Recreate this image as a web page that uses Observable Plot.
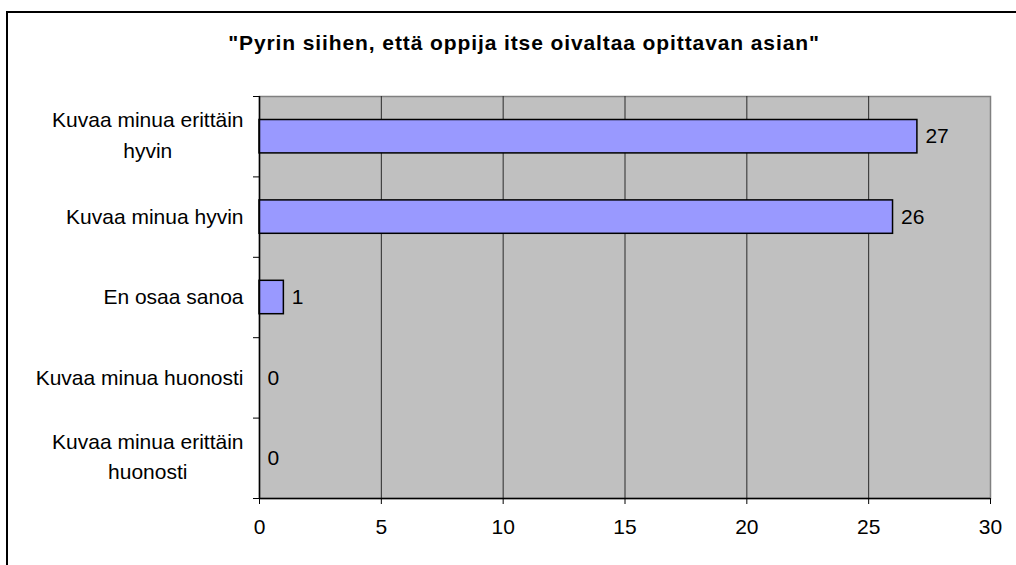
<!DOCTYPE html>
<html>
<head>
<meta charset="utf-8">
<script src="https://cdn.jsdelivr.net/npm/d3@7"></script>
<script src="https://cdn.jsdelivr.net/npm/@observablehq/plot@0.6"></script>
<style>
  html, body { margin: 0; padding: 0; background: #fff; overflow: hidden; }
  #wrap { position: relative; width: 1016px; height: 565px; overflow: hidden; font-family: "Liberation Sans", Arial, sans-serif; }
  #border { position: absolute; left: 6px; top: 11px; width: 1100px; height: 700px; border: 2px solid #000; box-sizing: border-box; }
  #title { position: absolute; left: 16px; width: 1016px; top: 31px; text-align: center; font-weight: bold; font-size: 21px; letter-spacing: 0.9px; color: #000; }
  #chart { position: absolute; left: 0; top: 0; }
</style>
</head>
<body>
<div id="wrap">
  <div id="border"></div>
  <div id="title"></div>
  <div id="chart"></div>
</div>
<script>
const title = "\"Pyrin siihen, että oppija itse oivaltaa opittavan asian\"";
const categories = [
  ["Kuvaa minua erittäin", "hyvin"],
  ["Kuvaa minua hyvin"],
  ["En osaa sanoa"],
  ["Kuvaa minua huonosti"],
  ["Kuvaa minua erittäin", "huonosti"]
];
const values = [27, 26, 1, 0, 0];
const xTicks = [0, 5, 10, 15, 20, 25, 30];

document.getElementById("title").textContent = title;

const FONT = 21;
const data = categories.map((c, i) => ({i, lines: c, v: values[i]}));

const ctx = document.createElement("canvas").getContext("2d");
ctx.font = `${FONT}px "Liberation Sans"`;

const labelMarks = data.map(d => {
  if (d.lines.length === 1) {
    return Plot.text([d], {x: 0, y: d => d.i + 0.5, text: d => d.lines[0], textAnchor: "end", dx: -16, fontSize: FONT, fill: "#000"});
  }
  const w = Math.max(...d.lines.map(s => ctx.measureText(s).width));
  return Plot.text([d], {x: 0, y: d => d.i + 0.5, text: d => d.lines.join("\n"), textAnchor: "middle", lineHeight: 1.45, dx: -16 - w / 2, dy: -4, fontSize: FONT, fill: "#000"});
});

const chart = Plot.plot({
  width: 1016,
  height: 565,
  marginLeft: 259,
  marginRight: 26,
  marginTop: 96,
  marginBottom: 67,
  style: {fontFamily: "'Liberation Sans', Arial, sans-serif", fontSize: FONT + "px", background: "transparent", overflow: "visible"},
  x: {domain: [0, 30], ticks: xTicks},
  y: {domain: [0, 5], reverse: true},
  marks: [
    Plot.frame({fill: "#c0c0c0", stroke: "#808080", strokeWidth: 1.5}),
    Plot.ruleX(xTicks.filter(t => t > 0 && t < 30), {stroke: "#2a2a2a", strokeWidth: 1}),
    Plot.rectX(data, {x1: 0, x2: "v", y1: d => d.i, y2: d => d.i + 1, insetTop: 23.5, insetBottom: 23.5, fill: "#9999ff", stroke: "#000", strokeWidth: 1.5}),
    Plot.ruleX([0], {stroke: "#000", strokeWidth: 1.5}),
    Plot.ruleY([5], {stroke: "#000", strokeWidth: 1.5}),
    Plot.axisX({ticks: xTicks, tickSize: 6, tickPadding: 15, tickFormat: d => String(d), fontSize: FONT, stroke: "#000", fill: "#000", label: null}),
    Plot.axisY({ticks: [0, 1, 2, 3, 4, 5], tickSize: 6, tickFormat: () => "", stroke: "#000", label: null}),
    Plot.text(data, {x: "v", y: d => d.i + 0.5, text: d => String(d.v), textAnchor: "start", dx: 8, fontSize: FONT, fill: "#000"}),
    ...labelMarks
  ]
});
document.getElementById("chart").appendChild(chart);
</script>
</body>
</html>
